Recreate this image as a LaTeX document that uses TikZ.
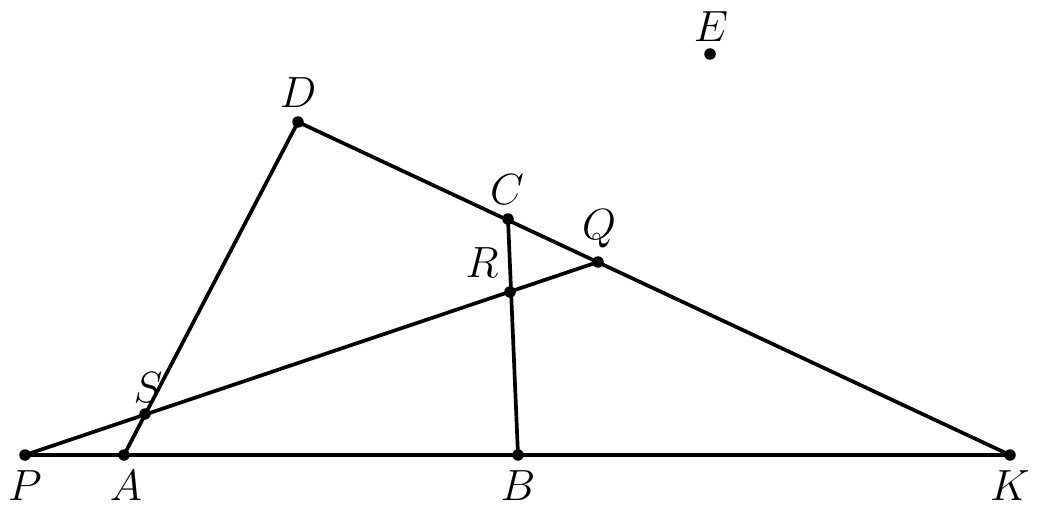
\documentclass[tikz,border=0pt]{standalone}
\begin{document}
\begin{tikzpicture}[x=0.02cm,y=-0.02cm,
  seg/.style={line width=2.1pt},
  pt/.style={circle,fill=black,inner sep=0pt,minimum size=0.23cm},
  lab/.style={font=\fontsize{23.5}{28}\selectfont,inner sep=0pt}]
\useasboundingbox (0,0) rectangle (1041,513);
\node[pt] (P) at (25,455) {};
\node[pt] (A) at (124,455) {};
\node[pt] (B) at (518,455) {};
\node[pt] (K) at (1010,455) {};
\node[pt] (D) at (298,122) {};
\node[pt] (C) at (508,219) {};
\node[pt] (Q) at (598,262) {};
\node[pt] (R) at (510,292) {};
\node[pt] (S) at (145,414) {};
\node[pt] (E) at (710,54) {};
\draw[seg] (P.center) -- (K.center);
\draw[seg] (A.center) -- (D.center);
\draw[seg] (D.center) -- (K.center);
\draw[seg] (C.center) -- (B.center);
\draw[seg] (P.center) -- (Q.center);
\node[lab] (lP) at (25,486) {$P$};
\node[lab] (lA) at (126,486) {$A$};
\node[lab] (lB) at (518,486) {$B$};
\node[lab] (lK) at (1010,486) {$K$};
\node[lab] (lD) at (298,93) {$D$};
\node[lab] (lC) at (507,190) {$C$};
\node[lab] (lQ) at (599,229) {$Q$};
\node[lab] (lR) at (482,263) {$R$};
\node[lab] (lS) at (148,388) {$S$};
\node[lab] (lE) at (711,27) {$E$};
\end{tikzpicture}
\end{document}
